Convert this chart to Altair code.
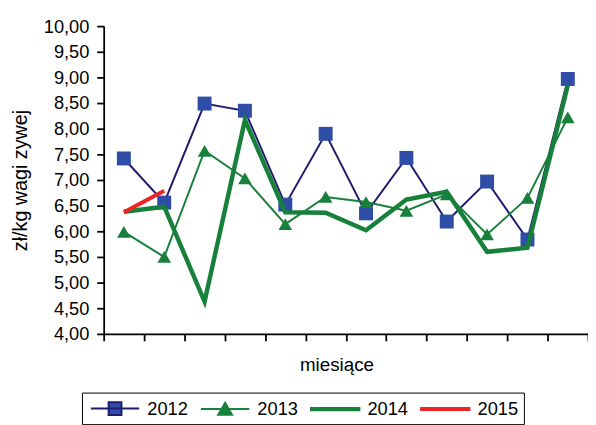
import altair as alt
import pandas as pd

months = list(range(1, 13))
series_names = ["2012", "2013", "2014", "2015"]
v2012 = [7.42, 6.56, 8.49, 8.35, 6.52, 7.90, 6.35, 7.43, 6.19, 6.97, 5.84, 8.97]
v2013 = [5.99, 5.50, 7.57, 7.03, 6.14, 6.67, 6.57, 6.40, 6.72, 5.94, 6.65, 8.22]
v2014 = [6.38, 6.48, 4.63, 8.17, 6.37, 6.36, 6.02, 6.62, 6.77, 5.60, 5.68, 8.85]
v2015 = [6.37, 6.79]
y_ticks = [4.0, 4.5, 5.0, 5.5, 6.0, 6.5, 7.0, 7.5, 8.0, 8.5, 9.0, 9.5, 10.0]
x_ticks = list(range(0, 13))

rows = []
for name, vals in zip(series_names, [v2012, v2013, v2014, v2015]):
    for m, v in zip(months, vals):
        rows.append({"series": name, "month": m, "value": v})
df = pd.DataFrame(rows)

FONT = "Liberation Sans"
NAVY = "#1F1B6F"
BLUE = "#2E4DA7"
GREEN = "#17803A"
RED = "#EE2424"
line_colors = [NAVY, GREEN, GREEN, RED]
fill_colors = [BLUE, GREEN, GREEN, RED]
legend_shapes = [
    "M-2.45,0L2.45,0M-0.65,-0.65L0.65,-0.65L0.65,0.65L-0.65,0.65Z",
    "M-2.45,0L2.45,0M0,-0.62L0.7,0.58L-0.7,0.58Z",
    "M-2.45,-0.12L2.45,-0.12L2.45,0.12L-2.45,0.12Z",
    "M-2.45,-0.1L2.45,-0.1L2.45,0.1L-2.45,0.1Z",
]

x_enc = alt.X(
    "pos:Q",
    scale=alt.Scale(domain=[0, 12], nice=False, zero=False),
    axis=alt.Axis(
        values=x_ticks, labels=False, grid=False, tickSize=7,
        title="miesiące", titleX=236, titleY=37, titleBaseline="alphabetic",
        titleAlign="center", titleFont=FONT, titleFontSize=19,
        titleFontWeight="normal", titleColor="black",
    ),
)
y_enc = alt.Y(
    "value:Q",
    scale=alt.Scale(domain=[4, 10], nice=False, zero=False),
    axis=alt.Axis(
        values=y_ticks, grid=False, tickSize=7, labelPadding=8,
        labelExpr="replace(format(datum.value, '.2f'), '.', ',')",
        labelFont=FONT, labelFontSize=18.5, labelColor="black",
        title="zł/kg wagi zywej", titleX=-84, titleY=156, titleAngle=-90,
        titleBaseline="middle", titleAlign="center", titleFont=FONT,
        titleFontSize=20, titleFontWeight="normal", titleColor="black",
    ),
)

base = alt.Chart(df).transform_calculate(pos="datum.month - 0.5").encode(x=x_enc, y=y_enc)


def line_layer(name, color, width):
    return base.transform_filter(alt.datum.series == name).mark_line(
        color=color, strokeWidth=width, strokeJoin="miter"
    )


l2012 = line_layer("2012", NAVY, 2)
p2012 = base.transform_filter(alt.datum.series == "2012").mark_point(
    shape="square", filled=True, size=200, color=BLUE, opacity=1
)
l2013 = line_layer("2013", GREEN, 2)
p2013 = base.transform_filter(alt.datum.series == "2013").mark_point(
    shape="triangle-up", filled=True, size=190, color=GREEN, opacity=1
)
l2014 = line_layer("2014", GREEN, 4.5)
l2015 = line_layer("2015", RED, 4)

leg = alt.Legend(title=None)
legend_layer = (
    alt.Chart(df)
    .transform_filter("false")
    .transform_calculate(pos="datum.month - 0.5")
    .mark_point(filled=True, opacity=1)
    .encode(
        x=x_enc,
        y=y_enc,
        fill=alt.Fill("series:N", scale=alt.Scale(domain=series_names, range=fill_colors), legend=leg),
        stroke=alt.Stroke("series:N", scale=alt.Scale(domain=series_names, range=line_colors), legend=leg),
        shape=alt.Shape("series:N", scale=alt.Scale(domain=series_names, range=legend_shapes), legend=leg),
    )
)

chart = (
    alt.layer(l2012, p2012, l2013, p2013, l2014, l2015, legend_layer)
    .properties(
        width=491,
        height=312,
        autosize=alt.AutoSizeParams(type="none"),
        padding={"left": 97, "top": 15.5, "right": 0, "bottom": 90},
        background="white",
    )
    .configure_view(stroke=None)
    .configure_axis(domainColor="black", domainWidth=1.8, tickColor="black", tickWidth=1.8)
    .configure_legend(
        orient="none", legendX=-22, legendY=371.5, direction="horizontal",
        symbolSize=400, symbolOffset=17.5, labelOffset=21.7, columnPadding=8.6,
        symbolStrokeWidth=2, padding=5, strokeColor="black", labelFont=FONT,
        labelFontSize=18.5, labelColor="black", labelLimit=200,
    )
)

chart.save("out.html", embed_options={"renderer": "svg", "actions": False})
